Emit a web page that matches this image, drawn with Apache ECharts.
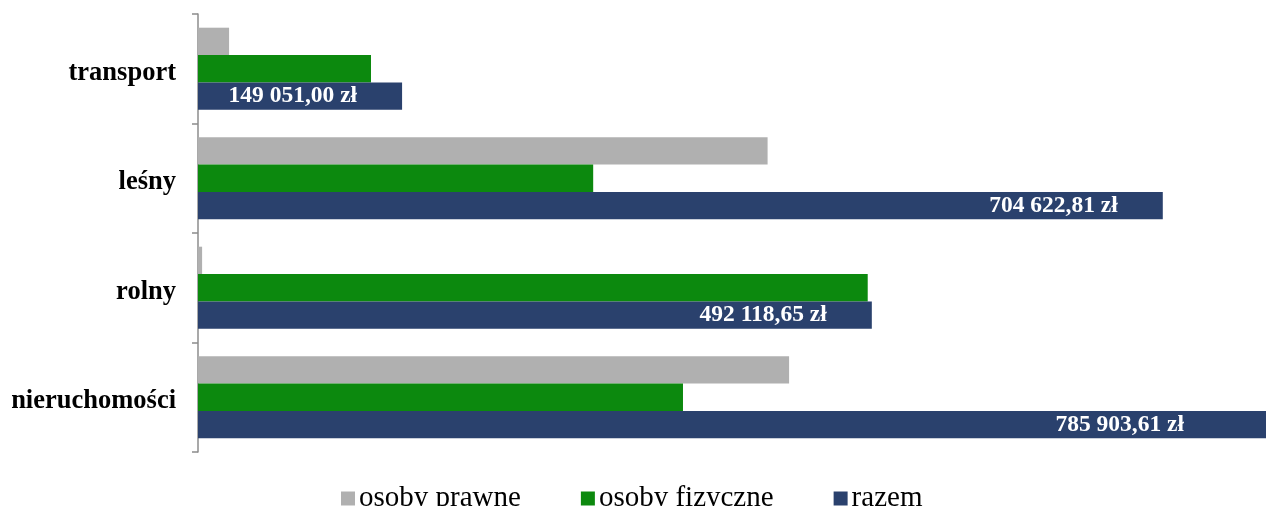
<!DOCTYPE html>
<html><head><meta charset="utf-8">
<script src="https://cdn.jsdelivr.net/npm/echarts@6/dist/echarts.min.js"></script>
<style>html,body{margin:0;padding:0;background:#fff}#c{width:1266px;height:506px}</style>
</head><body><div id="c"></div>
<script>
const categories = ['nieruchomości', 'rolny', 'leśny', 'transport'];
const seriesNames = ['osoby prawne', 'osoby fizyczne', 'razem'];
const osobyPrawne = [431700, 3000, 416000, 22700];
const osobyFizyczne = [354203.61, 489118.65, 288622.81, 126351.00];
const razem = [785903.61, 492118.65, 704622.81, 149051.00];
const axisMax = 780000;

function fmt(v){
  const parts = v.toFixed(2).split('.');
  const int = parts[0].replace(/\B(?=(\d{3})+(?!\d))/g, ' ');
  return int + ',' + parts[1] + ' zł';
}

const chart = echarts.init(document.getElementById('c'), null, {renderer:'canvas'});
const serif = '"Liberation Serif", "DejaVu Serif", serif';
chart.setOption({
  animation:false,
  grid:{left:198, top:14, height:438, right:0, containLabel:false},
  legend:{
    data:seriesNames, left:336, top:479, itemWidth:14, itemHeight:14, itemGap:60,
    icon:'rect',
    textStyle:{fontFamily:serif, fontSize:29, color:'#000', padding:[0,0,0,-1]}
  },
  xAxis:{type:'value', min:0, max:axisMax, show:false},
  yAxis:{type:'category', data:categories,
    axisLine:{show:true, lineStyle:{color:'#8c8c8c', width:1.5}},
    axisTick:{show:true, length:6, lineStyle:{color:'#8c8c8c', width:1.5}},
    axisLabel:{margin:22, formatter: v => '{c|' + v + '}',
      rich:{c:{fontFamily:serif, fontWeight:'bold', fontSize:26.5, color:'#000', padding:[8,0,0,0]}}}
  },
  series:[
    {name:seriesNames[0], type:'bar', data:osobyPrawne, barGap:'0%', barCategoryGap:'25%',
     itemStyle:{color:'#b0b0b0'}},
    {name:seriesNames[1], type:'bar', data:osobyFizyczne, itemStyle:{color:'#0c890e'}},
    {name:seriesNames[2], type:'bar',
     data:razem.map((v,i)=>({value:v, label:{distance: i===0 ? 82 : 45}})),
     itemStyle:{color:'#2a416d'},
     label:{show:true, position:'insideRight', distance:45, formatter:p=>fmt(p.value),
       fontFamily:serif, fontWeight:'bold', fontSize:23.5, color:'#fff'}}
  ]
});
</script></body></html>
